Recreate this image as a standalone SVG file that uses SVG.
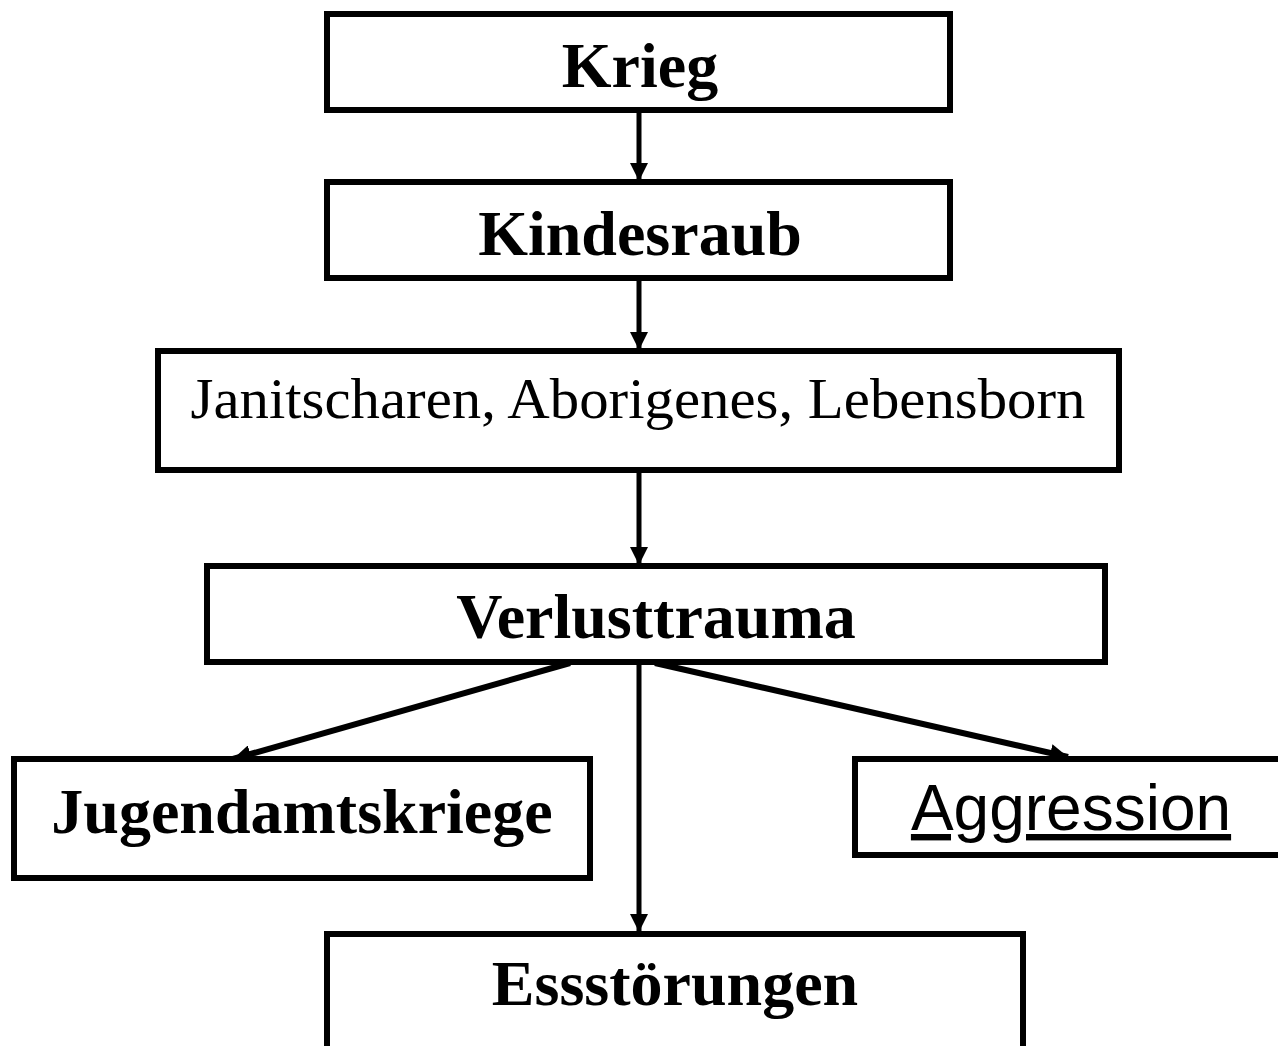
<svg xmlns="http://www.w3.org/2000/svg" width="1278" height="1046" viewBox="0 0 1278 1046">
<style>
.box{fill:#fff;stroke:#000;stroke-width:6}
.b{font-family:"Liberation Serif","Times New Roman",serif;font-weight:bold;font-size:64px;text-anchor:middle;fill:#000}
.r{font-family:"Liberation Serif","Times New Roman",serif;font-size:58px;text-anchor:middle;fill:#000}
.s{font-family:"Liberation Sans",Arial,sans-serif;font-size:64px;text-anchor:middle;fill:#000;text-decoration:underline;text-decoration-skip-ink:none}
.c{stroke:#000;stroke-width:5;fill:none}
.d{stroke:#000;stroke-width:6;fill:none}
</style>
<defs>
<marker id="ah" markerUnits="userSpaceOnUse" markerWidth="18" markerHeight="18" viewBox="0 0 18 18" refX="18" refY="9" orient="auto">
<path d="M0,0 L18,9 L0,18 z" fill="#000"/>
</marker>
</defs>
<rect width="1278" height="1046" fill="#fff"/>
<g id="connectors">
<line class="c" x1="639" y1="112" x2="639" y2="181" marker-end="url(#ah)"/>
<line class="c" x1="639" y1="280" x2="639" y2="350" marker-end="url(#ah)"/>
<line class="c" x1="639" y1="472" x2="639" y2="565" marker-end="url(#ah)"/>
<line class="c" x1="639" y1="664" x2="639" y2="932" marker-end="url(#ah)"/>
<line class="d" x1="570" y1="663" x2="233" y2="759" marker-end="url(#ah)"/>
<line class="d" x1="655" y1="663" x2="1068" y2="757" marker-end="url(#ah)"/>
</g>
<g id="krieg">
<rect class="box" x="327" y="14" width="623" height="96"/>
<text class="b" x="640" y="87">Krieg</text>
</g>
<g id="kindesraub">
<rect class="box" x="327" y="182" width="623" height="96"/>
<text class="b" x="640" y="255">Kindesraub</text>
</g>
<g id="janitscharen">
<rect class="box" x="158" y="351" width="961" height="119"/>
<text class="r" x="638" y="418" textLength="895" lengthAdjust="spacingAndGlyphs">Janitscharen, Aborigenes, Lebensborn</text>
</g>
<g id="verlusttrauma">
<rect class="box" x="207" y="566" width="898" height="96"/>
<text class="b" x="656" y="638">Verlusttrauma</text>
</g>
<g id="jugendamtskriege">
<rect class="box" x="14" y="759" width="576" height="119"/>
<text class="b" x="302" y="833">Jugendamtskriege</text>
</g>
<g id="aggression">
<rect class="box" x="855" y="759" width="440" height="96"/>
<text class="s" x="1071" y="830">Aggression</text>
</g>
<g id="essstoerungen">
<rect class="box" x="327" y="934" width="696" height="140"/>
<text class="b" x="675" y="1005">Essstörungen</text>
</g>
</svg>
